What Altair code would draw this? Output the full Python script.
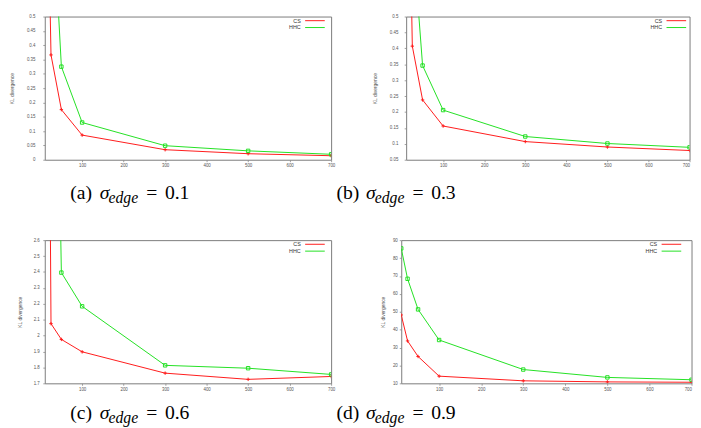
import altair as alt
import pandas as pd

# ---------------- data ----------------
x_vals = [10, 25, 50, 100, 300, 500, 700]
series = ["CS", "HHC"]

cs_a = [1.5, 0.366, 0.175, 0.086, 0.035, 0.021, 0.014]
hhc_a = [2.0, 1.0, 0.325, 0.130, 0.049, 0.031, 0.019]
cs_b = [1.5, 0.407, 0.238, 0.156, 0.107, 0.090, 0.079]
hhc_b = [2.0, 0.775, 0.346, 0.206, 0.123, 0.101, 0.089]
cs_c = [8.0, 2.075, 1.976, 1.898, 1.764, 1.725, 1.743]
hhc_c = [10.0, 6.0, 2.396, 2.184, 1.813, 1.795, 1.756]
cs_d = [48.2, 33.7, 25.0, 14.0, 11.4, 10.8, 10.6]
hhc_d = [85.4, 68.4, 51.3, 34.2, 17.7, 13.3, 12.0]

x_ticks = [100, 200, 300, 400, 500, 600, 700]
y_ticks_a = [0, 0.05, 0.1, 0.15, 0.2, 0.25, 0.3, 0.35, 0.4, 0.45, 0.5]
y_ticks_b = [0.05, 0.1, 0.15, 0.2, 0.25, 0.3, 0.35, 0.4, 0.45, 0.5]
y_ticks_c = [1.7, 1.8, 1.9, 2, 2.1, 2.2, 2.3, 2.4, 2.5, 2.6]
y_ticks_d = [10, 20, 30, 40, 50, 60, 70, 80, 90]

cap_letters = ["(a)", "(b)", "(c)", "(d)"]
cap_values = ["0.1", "0.3", "0.6", "0.9"]
y_title = "KL divergence"

# ---------------- style ----------------
RED = "#ff1a1a"
GREEN = "#22e022"
PLUS = "M-1,0H1M0,-1V1"
LEG_LINE = "M3,0H11"
H = 146


def panel(cs, hhc, yticks, w, flush, lpad, tpad, leg_x):
    df = pd.DataFrame({
        "n": x_vals + x_vals,
        "kl": cs + hhc,
        "alg": ["CS"] * len(x_vals) + ["HHC"] * len(x_vals),
    })
    xenc = alt.X("n:Q",
                 scale=alt.Scale(domain=[10, 700], nice=False, zero=False),
                 axis=alt.Axis(values=x_ticks, title=None, labelFlush=flush))
    yenc = alt.Y("kl:Q",
                 scale=alt.Scale(domain=[yticks[0], yticks[-1]], nice=False, zero=False),
                 axis=alt.Axis(values=yticks, format=".4~g", title=y_title,
                               labelPadding=lpad, titlePadding=tpad))
    leg = alt.Legend(title=None, orient="none", legendX=leg_x, legendY=1.2,
                     direction="vertical", symbolType=LEG_LINE, symbolSize=25,
                     symbolStrokeWidth=1, labelFontSize=5.5, labelAlign="right",
                     labelOffset=0, rowPadding=0, padding=0,
                     labelFont="Liberation Sans", labelColor="#333")
    color = alt.Color("alg:N", scale=alt.Scale(domain=series, range=[RED, GREEN]), legend=leg)
    line = alt.Chart(df).mark_line(clip=True, strokeWidth=1).encode(x=xenc, y=yenc, color=color)
    pts = alt.Chart(df).mark_point(clip=True, filled=False, strokeWidth=1, size=12, opacity=1).encode(
        x=xenc, y=yenc, color=color,
        shape=alt.Shape("alg:N", scale=alt.Scale(domain=series, range=[PLUS, "square"]), legend=None))
    return alt.layer(line, pts).properties(width=w, height=H)


ORIGIN_X = 45


def caption(items, base, height):
    layers = []
    one = alt.Data(values=[{}])
    for px, letter, val in items:
        x0 = px - ORIGIN_X
        pieces = [
            (letter, x0 - 1, base, 20, "normal"),
            ("σ", x0 + 29, base, 20, "italic"),
            ("edge", x0 + 38, base + 4, 16, "italic"),
            ("=", x0 + 76.5, base, 20, "normal"),
            (val, x0 + 95.5, base, 20, "normal"),
        ]
        for t, x, y, fs, st in pieces:
            layers.append(
                alt.Chart(one).mark_text(align="left", baseline="alphabetic", font="Liberation Serif",
                                         fontSize=fs, fontStyle=st, color="#000")
                .encode(x=alt.value(x), y=alt.value(y), text=alt.value(t))
            )
    return alt.layer(*layers).properties(width=600, height=height,
                                         view=alt.ViewBackground(stroke="transparent"))


pa = panel(cs_a, hhc_a, y_ticks_a, 292, False, 8, 11.7, 255)
pb = panel(cs_b, hhc_b, y_ticks_b, 289, True, 6.4, 12.5, 255)
pc = panel(cs_c, hhc_c, y_ticks_c, 292, False, 3.6, 11, 255)
pd_ = panel(cs_d, hhc_d, y_ticks_d, 296, True, 2, 7.5, 255)

row1 = alt.hconcat(pa, pb, spacing=35.5).resolve_legend(color="independent")
row2 = alt.hconcat(pc, pd_, spacing=43.5).resolve_legend(color="independent")
cap1 = caption([(72, cap_letters[0], cap_values[0]), (343.5, cap_letters[1], cap_values[1])], 31.5, 68)
cap2 = caption([(72, cap_letters[2], cap_values[2]), (343.5, cap_letters[3], cap_values[3])], 27.5, 40)

chart = (
    alt.vconcat(row1, cap1, row2, cap2, spacing=0)
    .resolve_legend(color="independent")
    .properties(padding={"left": 1.5, "top": 0.5, "right": 0, "bottom": 0}, background="white")
    .configure_view(stroke="#7a7a7a", strokeWidth=1)
    .configure_axis(labelFont="Liberation Sans", labelFontSize=4.5, labelColor="#555",
                    titleFont="Liberation Sans", titleFontSize=5, titleFontWeight="normal",
                    titleColor="#555", domain=False, grid=False, tickSize=2, tickColor="#888",
                    tickWidth=0.8)
    .configure_axisX(labelPadding=1)
)

chart.save("out.html", embed_options={"renderer": "svg", "actions": False})
